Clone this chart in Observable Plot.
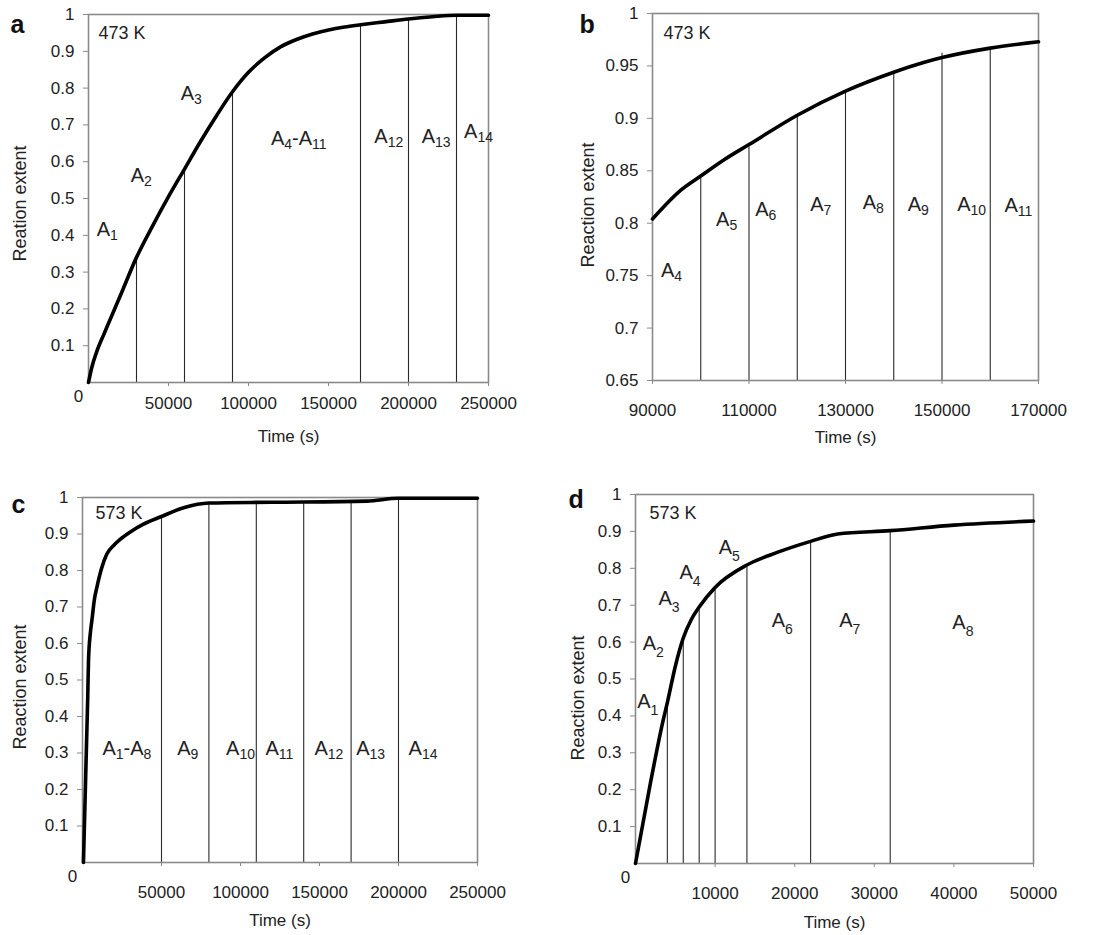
<!DOCTYPE html>
<html><head><meta charset="utf-8">
<script src="https://cdn.jsdelivr.net/npm/d3@7"></script>
<script src="https://cdn.jsdelivr.net/npm/@observablehq/plot@0.6"></script>
<style>
body{margin:0;background:#fff}
#wrap{position:relative;width:1108px;height:935px;background:#fff}
#wrap svg{position:absolute}
</style>
</head><body><div id="wrap"></div>
<script>
// ---- Panel a (473 K, full range) ----
const aTime = [0,2000,5000,10000,20000,30000,40000,50000,60000,70000,80000,90000,100000,110000,120000,130000,140000,150000,160000,170000,185000,200000,215000,230000,250000];
const aExtent = [0,0.04,0.082,0.135,0.237,0.34,0.425,0.505,0.58,0.655,0.725,0.79,0.843,0.882,0.912,0.932,0.947,0.958,0.966,0.972,0.98,0.988,0.994,0.998,0.998];
const aLineTime = [30000,60000,90000,170000,200000,230000];
const aLineTop = [0.34,0.58,0.79,0.968,0.988,0.998];
const aLabel = ["A_1","A_2","A_3","A_4-A_11","A_12","A_13","A_14"];
const aLabelTime = [11700,33000,64250,131400,187700,217300,243750];
const aLabelExtent = [0.416,0.5625,0.785,0.663,0.667,0.667,0.683];
const aXTicks = [50000,100000,150000,200000,250000];
const aYTicks = [0.1,0.2,0.3,0.4,0.5,0.6,0.7,0.8,0.9,1];

// ---- Panel b (473 K, zoom) ----
const bTime = [90000,96000,100000,105000,110000,120000,130000,140000,146000,150000,160000,170000];
const bExtent = [0.804,0.832,0.845,0.861,0.875,0.903,0.926,0.944,0.953,0.958,0.967,0.973];
const bLineTime = [100000,110000,120000,130000,140000,150000,160000];
const bLineTop = [0.843,0.873,0.902,0.925,0.943,0.962,0.966];
const bLabel = ["A_4","A_5","A_6","A_7","A_8","A_9","A_10","A_11"];
const bLabelTime = [93960,105360,113480,124880,135760,145090,156140,165820];
const bLabelExtent = [0.755,0.803,0.813,0.818,0.82,0.818,0.818,0.817];
const bXTicks = [90000,110000,130000,150000,170000];
const bYTicks = [0.65,0.7,0.75,0.8,0.85,0.9,0.95,1];

// ---- Panel c (573 K, full range) ----
const cTime = [600,3300,3800,5000,6000,7500,9100,12000,15400,20000,24000,30000,38600,50000,64000,80000,120000,180000,200000,250000];
const cExtent = [0,0.45,0.553,0.63,0.665,0.72,0.754,0.805,0.845,0.87,0.886,0.905,0.927,0.948,0.972,0.985,0.987,0.99,0.998,0.998];
const cLineTime = [50000,80000,110000,140000,170000,200000];
const cLineTop = [0.948,0.985,0.988,0.989,0.99,0.998];
const cLabel = ["A_1-A_8","A_9","A_10","A_11","A_12","A_13","A_14"];
const cLabelTime = [28100,66580,100000,124600,155950,182400,215500];
const cLabelExtent = [0.312,0.312,0.312,0.312,0.312,0.312,0.312];
const cXTicks = [50000,100000,150000,200000,250000];
const cYTicks = [0.1,0.2,0.3,0.4,0.5,0.6,0.7,0.8,0.9,1];

// ---- Panel d (573 K, early times) ----
const dTime = [0,1850,3450,4000,5020,6000,6980,8000,10000,14000,17800,22000,25400,32000,40000,50000];
const dExtent = [0,0.215,0.386,0.436,0.536,0.611,0.66,0.695,0.748,0.809,0.843,0.873,0.893,0.902,0.917,0.928];
const dLineTime = [4000,6000,8000,10000,14000,22000,32000];
const dLineTop = [0.44,0.615,0.697,0.75,0.81,0.871,0.902];
const dLabel = ["A_1","A_2","A_3","A_4","A_5","A_6","A_7","A_8"];
const dLabelTime = [1550,2230,4220,6860,11790,18440,26910,41130];
const dLabelExtent = [0.44,0.595,0.717,0.789,0.857,0.658,0.658,0.653];
const dXTicks = [10000,20000,30000,40000,50000];
const dYTicks = [0.1,0.2,0.3,0.4,0.5,0.6,0.7,0.8,0.9,1];

const zip = (xs, ys) => xs.map((x, i) => ({x, y: ys[i]}));
const FONT = "'Liberation Sans', Arial, Helvetica, sans-serif";
const TXT = "#222";

function panel(cfg) {
  const curve = zip(cfg.time, cfg.extent);
  const lines = zip(cfg.lineTime, cfg.lineTop);
  const labels = cfg.label.map((s, i) => ({s, x: cfg.labelTime[i], y: cfg.labelExtent[i]}));
  const marks = [
    Plot.ruleX(lines, {x: "x", y1: cfg.yDomain[0], y2: "y", stroke: "#2a2a2a", strokeWidth: 1.1}),
    Plot.frame({stroke: "#8a8a8a", strokeWidth: 1.6}),
    Plot.line(curve, {x: "x", y: "y", curve: "monotone-x", stroke: "#000", strokeWidth: 3.6, strokeLinejoin: "round", strokeLinecap: "round"}),
    Plot.axisX({ticks: cfg.xTicks, tickSize: 4, tickPadding: cfg.xPad, tickFormat: d => String(d), label: null, stroke: "#8a8a8a", fill: TXT, fontSize: 17}),
    Plot.axisY({ticks: cfg.yTicks, tickSize: 5, tickPadding: 9, tickFormat: d => String(d), label: null, stroke: "#8a8a8a", fill: TXT, fontSize: 17}),
    Plot.text(labels, {x: "x", y: "y", text: "s", fontSize: 20, fill: TXT, textAnchor: "middle", lineAnchor: "middle"}),
    Plot.text([cfg.temp], {text: d => d, frameAnchor: "top-left", dx: cfg.tempDx, dy: cfg.tempDy, textAnchor: "start", lineAnchor: "middle", fontSize: 18, fill: TXT}),
    Plot.text([cfg.letter], {text: d => d, frameAnchor: "top-left", dx: cfg.letterDx, dy: cfg.letterDy, textAnchor: "start", lineAnchor: "middle", fontSize: 25, fontWeight: "bold", fill: "#111"}),
    Plot.text([cfg.ytitle], {text: d => d, frameAnchor: "left", dx: cfg.ytitleDx, dy: cfg.ytitleDy, rotate: -90, textAnchor: "middle", lineAnchor: "middle", fontSize: 18, fill: TXT}),
    Plot.text(["Time (s)"], {text: d => d, frameAnchor: "bottom", dy: cfg.xtitleDy, textAnchor: "middle", lineAnchor: "middle", fontSize: 17, fill: TXT})
  ];
  if (cfg.zero) marks.push(Plot.text(["0"], {text: d => d, frameAnchor: "bottom-left", dx: -10, dy: 14, textAnchor: "middle", lineAnchor: "middle", fontSize: 17, fill: TXT}));
  const svg = Plot.plot({
    width: cfg.w, height: cfg.h,
    marginLeft: cfg.m[0], marginRight: cfg.m[1], marginTop: cfg.m[2], marginBottom: cfg.m[3],
    x: {domain: cfg.xDomain},
    y: {domain: cfg.yDomain},
    style: {fontFamily: FONT, fontSize: "17px", background: "white", overflow: "visible"},
    marks
  });
  // subscripts: "A_12" -> A with subscript 12
  d3.select(svg).selectAll("text").each(function() {
    const t = this.textContent;
    if (!/_\d/.test(t)) return;
    const sel = d3.select(this);
    sel.text(null);
    const parts = t.split(/_(\d+)/);
    let off = 0;
    parts.forEach((p, i) => {
      if (!p) return;
      const ts = sel.append("tspan").text(p);
      if (i % 2 === 1) { ts.attr("font-size", 14).attr("dy", cfg.subShift - off); off = cfg.subShift; }
      else { if (off) ts.attr("dy", -off); off = 0; }
    });
  });
  svg.style.left = cfg.left + "px";
  svg.style.top = cfg.top + "px";
  return svg;
}

const wrap = document.getElementById("wrap");
wrap.appendChild(panel({
  left: 0, top: 0, w: 554, h: 467, m: [88, 66, 14, 85],
  time: aTime, extent: aExtent, lineTime: aLineTime, lineTop: aLineTop,
  label: aLabel, labelTime: aLabelTime, labelExtent: aLabelExtent,
  xDomain: [0, 250000], yDomain: [0, 1], xTicks: aXTicks, yTicks: aYTicks, xPad: 10,
  temp: "473 K", tempDx: 10, tempDy: 19, letter: "a", letterDx: -78, letterDy: 10,
  ytitle: "Reation extent", ytitleDx: -68, ytitleDy: 5, xtitleDy: 54, zero: true, subShift: 4
}));
wrap.appendChild(panel({
  left: 554, top: 0, w: 554, h: 467, m: [98, 70, 13, 87],
  time: bTime, extent: bExtent, lineTime: bLineTime, lineTop: bLineTop,
  label: bLabel, labelTime: bLabelTime, labelExtent: bLabelExtent,
  xDomain: [90000, 170000], yDomain: [0.65, 1], xTicks: bXTicks, yTicks: bYTicks, xPad: 19,
  temp: "473 K", tempDx: 11, tempDy: 20, letter: "b", letterDx: -73, letterDy: 11,
  ytitle: "Reaction extent", ytitleDx: -64, ytitleDy: 8, xtitleDy: 57, zero: false, subShift: 4
}));
wrap.appendChild(panel({
  left: 0, top: 467, w: 554, h: 468, m: [82, 77, 30, 73],
  time: cTime, extent: cExtent, lineTime: cLineTime, lineTop: cLineTop,
  label: cLabel, labelTime: cLabelTime, labelExtent: cLabelExtent,
  xDomain: [0, 250000], yDomain: [0, 1], xTicks: cXTicks, yTicks: cYTicks, xPad: 19,
  temp: "573 K", tempDx: 13, tempDy: 16, letter: "c", letterDx: -71, letterDy: 7,
  ytitle: "Reaction extent", ytitleDx: -62, ytitleDy: 7, xtitleDy: 58, zero: true, subShift: 4
}));
wrap.appendChild(panel({
  left: 554, top: 467, w: 554, h: 468, m: [81, 75, 27, 72],
  time: dTime, extent: dExtent, lineTime: dLineTime, lineTop: dLineTop,
  label: dLabel, labelTime: dLabelTime, labelExtent: dLabelExtent,
  xDomain: [0, 50000], yDomain: [0, 1], xTicks: dXTicks, yTicks: dYTicks, xPad: 19,
  temp: "573 K", tempDx: 14, tempDy: 19, letter: "d", letterDx: -67, letterDy: 5,
  ytitle: "Reaction extent", ytitleDx: -57, ytitleDy: 19, xtitleDy: 59, zero: true, subShift: 7
}));
</script>
</body></html>
